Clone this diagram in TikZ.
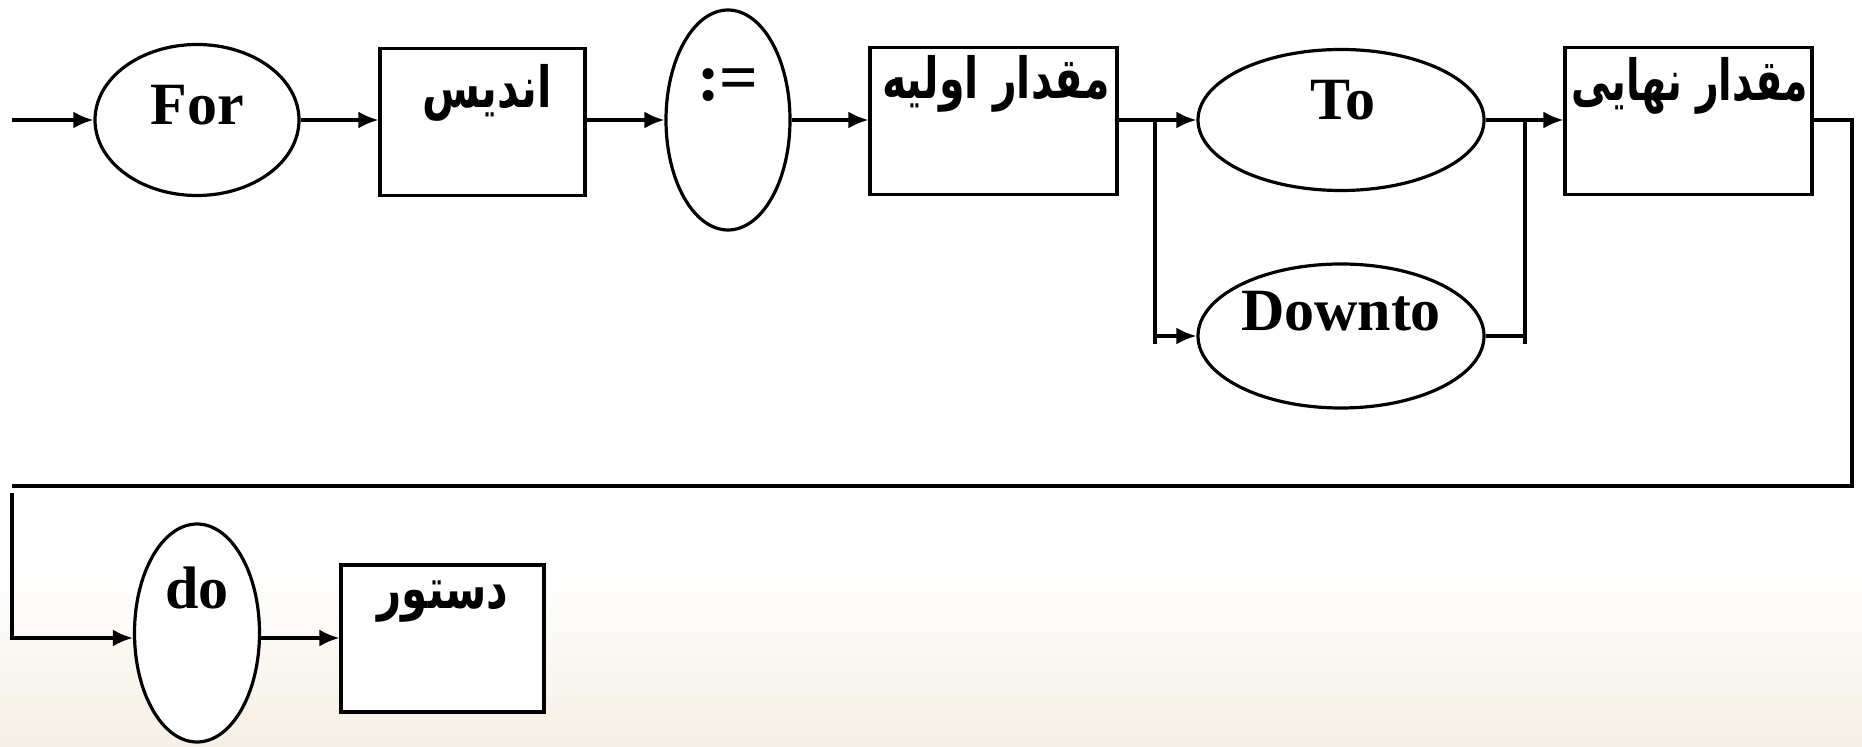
\documentclass[tikz,border=0pt]{standalone}
\usepackage{fontspec}
\setmainfont{Liberation Serif}
\newfontfamily\arabicfont[Script=Arabic]{DejaVu Sans}
\TeXXeTstate=1
\usepackage{tikz}
\usetikzlibrary{shapes.geometric, arrows.meta, positioning, calc}
\definecolor{bgbeige}{RGB}{245,240,229}
\newcommand{\fatext}[2][1]{\scalebox{#1}[1.35]{\beginR #2\endR}}

\begin{document}
\begin{tikzpicture}[
    x=0.5pt, y=-0.5pt,
    oval/.style={draw, line width=1.6pt, fill=white, ellipse, inner sep=0pt},
    box/.style={draw, line width=1.6pt, fill=white, rectangle, inner sep=0pt},
    kw/.style={font=\bfseries\fontsize{30}{30}\selectfont, inner sep=0pt, anchor=base},
    fa/.style={font=\arabicfont\bfseries\fontsize{21}{21}\selectfont, inner sep=0pt},
    arrow/.style={-{Latex[length=10pt, width=8.5pt]}, line width=1.6pt},
    line/.style={line width=1.6pt}
]
    % Background
    \useasboundingbox (0,0) rectangle (1862,747);
    \fill[white] (0,0) rectangle (1862,747);
    \shade[top color=white, bottom color=bgbeige] (0,560) rectangle (1862,747);

    % Entities
    \node[oval, minimum width=102pt, minimum height=75.5pt] (for) at (197,120) {};
    \node[box, minimum width=102.5pt, minimum height=73.5pt] (index) at (482.5,122) {};
    \node[oval, minimum width=62pt, minimum height=110pt] (assign) at (728,120) {};
    \node[box, minimum width=123.5pt, minimum height=73.5pt] (init) at (993.5,121) {};
    \node[oval, minimum width=143pt, minimum height=70.5pt] (to) at (1341,120) {};
    \node[oval, minimum width=143pt, minimum height=72pt] (downto) at (1341,336) {};
    \node[box, minimum width=123.5pt, minimum height=73.5pt] (final) at (1688.5,121) {};
    \node[oval, minimum width=62.5pt, minimum height=109pt] (do) at (197,633) {};
    \node[box, minimum width=101.5pt, minimum height=73.5pt] (stmt) at (442.5,638.5) {};

    % Labels
    \node[kw] (forlbl) at (197,125) {For};
    \node[kw] (tolbl) at (1343,120) {To};
    \node[kw] (downtolbl) at (1341,331) {Downto};
    \node[kw, font=\bfseries\fontsize{34}{34}\selectfont] (assignlbl) at (728,101) {:=};
    \node[kw] (dolbl) at (197,609) {do};
    \node[fa] (indexlbl) at (487,93) {\fatext{اندیس}};
    \node[fa] (initlbl) at (996,84) {\fatext[0.98]{مقدار اولیه}};
    \node[fa] (finallbl) at (1690,86) {\fatext[0.94]{مقدار نهایی}};
    \node[fa] (stmtlbl) at (443,602) {\fatext{دستور}};

    % Corners
    \coordinate (start) at (12,120);
    \coordinate (splitl) at (1155,120);
    \coordinate (splitlb) at (1155,344);
    \coordinate (joinr) at (1525,120);
    \coordinate (joinrb) at (1525,344);
    \coordinate (outr) at (1852,120);
    \coordinate (backr) at (1852,486);
    \coordinate (backl) at (12,486);
    \coordinate (downl) at (12,493);

    % Relationships
    \draw[arrow] (start) -- (for.west);
    \draw[arrow] (for.east) -- (index.west |- for.east);
    \draw[arrow] (index.east |- assign.west) -- (assign.west);
    \draw[arrow] (assign.east) -- (init.west |- assign.east);
    \draw[arrow] (init.east |- to.west) -- (to.west);
    \draw[line] (splitl) -- (splitlb);
    \draw[arrow] (splitl |- downto.west) -- (downto.west);
    \draw[arrow] (to.east) -- (final.west |- to.east);
    \draw[line] (joinr) -- (joinrb);
    \draw[line] (downto.east) -- (joinr |- downto.east);
    \draw[line] (final.east |- outr) -- (outr) -- (backr) -- (backl);
    \draw[arrow] (downl) -- (12,638) -- (do.west |- 0,638);
    \draw[arrow] (do.east |- 0,638) -- (stmt.west |- 0,638);
\end{tikzpicture}
\end{document}
